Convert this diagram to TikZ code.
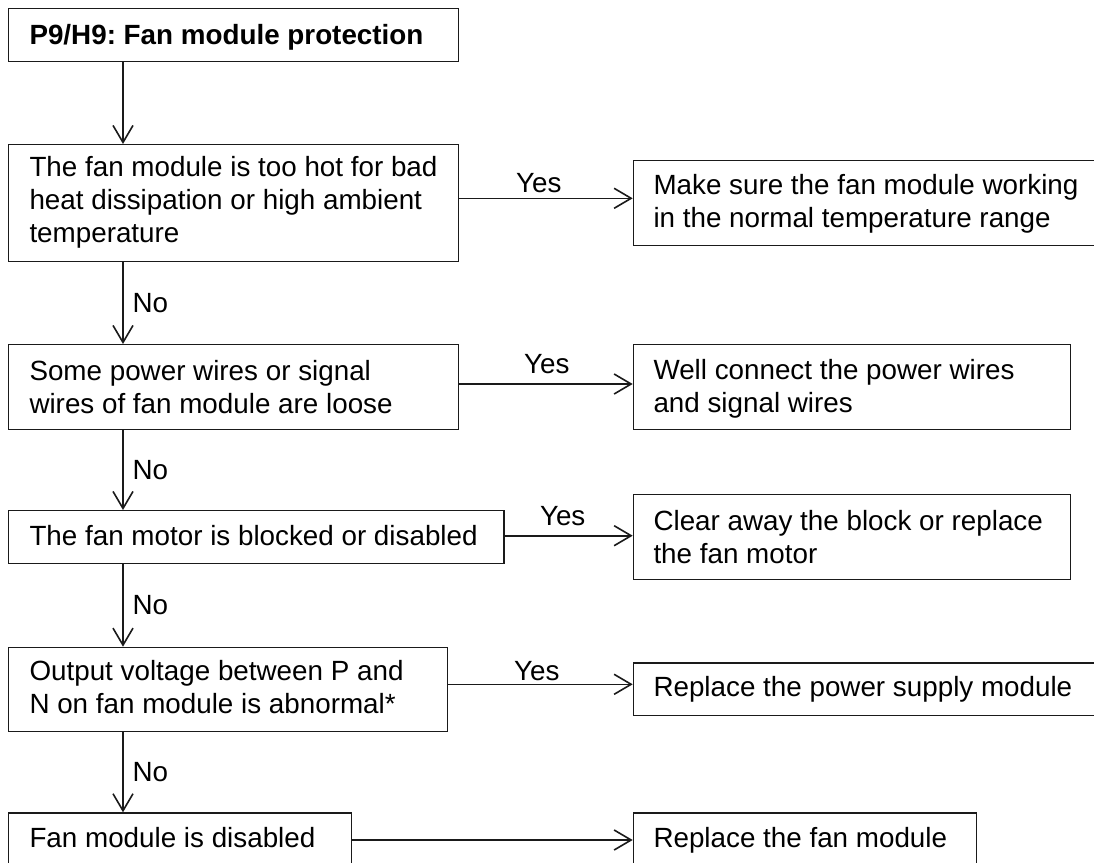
\documentclass[tikz,border=0pt]{standalone}
\usepackage{fontspec}
\setmainfont{Liberation Sans}
\usetikzlibrary{arrows.meta}
\definecolor{ink}{HTML}{1A1A1A}
\frenchspacing

\begin{document}
\begin{tikzpicture}[x=1pt,y=-1pt,
  box/.style={draw=ink, line width=1.4pt, rectangle, inner sep=0pt, anchor=north west},
  % multi-line texts are anchored on the baseline of their last line
  txt/.style={anchor=base west, align=left, inner sep=0pt, text=black,
              font=\fontsize{27.8}{33}\selectfont},
  flow/.style={draw=ink, line width=1.6pt,
               -{Straight Barb[length=17pt,width=20pt,line width=1.6pt]}},
  lbl/.style={inner sep=0pt, text=black, font=\fontsize{27.8}{33}\selectfont},
  no/.style={lbl, midway, anchor=west, xshift=8.7pt},
  yes/.style={lbl, anchor=base},
]
\useasboundingbox (0,0) rectangle (1094,862);
\fill[white] (0,0) rectangle (1094,862);
\clip (0,0) rectangle (1094,862);

% decision boxes (left column)
\node[box, minimum width=450pt,   minimum height=53pt]    (b1) at (8,8) {};
\node[box, minimum width=449.5pt, minimum height=116.7pt] (b2) at (8,144) {};
\node[box, minimum width=449.5pt, minimum height=85pt]    (b3) at (8,344) {};
\node[box, minimum width=495.3pt, minimum height=52.7pt]  (b4) at (8,510) {};
\node[box, minimum width=438.7pt, minimum height=84.3pt]  (b5) at (8,646.7) {};
\node[box, minimum width=343pt,   minimum height=53pt]    (b6) at (8,812.3) {};

% action boxes (right column)
\node[box, minimum width=463pt, minimum height=85pt]   (r1) at (632.7,160) {};
\node[box, minimum width=437pt, minimum height=85pt]   (r2) at (632.7,344) {};
\node[box, minimum width=437pt, minimum height=85pt]   (r3) at (632.7,494) {};
\node[box, minimum width=463pt, minimum height=52.7pt] (r4) at (632.7,662.3) {};
\node[box, minimum width=343pt, minimum height=53pt]   (r5) at (632.7,812.3) {};

% box texts
\node[txt, font=\fontsize{27.8}{33}\selectfont\bfseries] (t1) at (29.3,44.3) {P9/H9: Fan module protection};
\node[txt] (t2) at (29.3,242.3) {The fan module is too hot for bad\\heat dissipation or high ambient\\temperature};
\node[txt] (t3) at (29.3,413) {Some power wires or signal\\wires of fan module are loose};
\node[txt] (t4) at (29.3,545.7) {The fan motor is blocked or disabled};
\node[txt] (t5) at (29.3,713.7) {Output voltage between P and\\N on fan module is abnormal*};
\node[txt] (t6) at (29.3,847.3) {Fan module is disabled};

\node[txt] (s1) at (653.3,227.3) {Make sure the fan module working\\in the normal temperature range};
\node[txt] (s2) at (653.3,412.5) {Well connect the power wires\\and signal wires};
\node[txt] (s3) at (653.3,563) {Clear away the block or replace\\the fan motor};
\node[txt] (s4) at (653.3,696.7) {Replace the power supply module};
\node[txt] (s5) at (653.3,847.3) {Replace the fan module};

% vertical "No" chain
\coordinate (spine) at (123,0);
\draw[flow] (b1.south -| spine) -- (b2.north -| spine);
\draw[flow] (b2.south -| spine) -- node[no] {No} (b3.north -| spine);
\draw[flow] (b3.south -| spine) -- node[no] {No} (b4.north -| spine);
\draw[flow] (b4.south -| spine) -- node[no] {No} (b5.north -| spine);
\draw[flow] (b5.south -| spine) -- node[no] {No} (b6.north -| spine);

% horizontal "Yes" branches
\coordinate (y1) at (0,198.3);
\coordinate (y2) at (0,384);
\coordinate (y3) at (0,535.7);
\coordinate (y4) at (0,684.3);
\coordinate (y5) at (0,840);
\draw[flow] (b2.east |- y1) -- node[yes, pos=0.46, yshift=6pt] {Yes} (r1.west |- y1);
\draw[flow] (b3.east |- y2) -- node[yes, pos=0.506, yshift=10.7pt] {Yes} (r2.west |- y2);
\draw[flow] (b4.east |- y3) -- node[yes, pos=0.453, yshift=10pt] {Yes} (r3.west |- y3);
\draw[flow] (b5.east |- y4) -- node[yes, pos=0.48, yshift=3.6pt] {Yes} (r4.west |- y4);
\draw[flow] (b6.east |- y5) -- (r5.west |- y5);
\end{tikzpicture}
\end{document}
